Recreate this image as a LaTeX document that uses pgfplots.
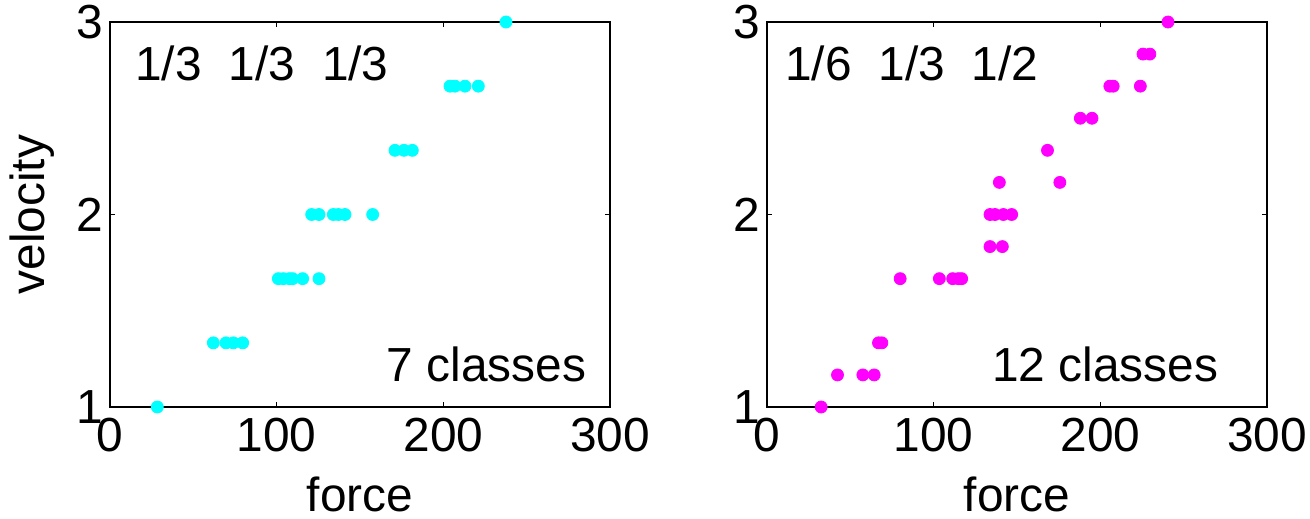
\documentclass[border=0pt]{standalone}
\usepackage{fontspec}
\setmainfont{Liberation Sans}
\usepackage{pgfplots}
\pgfplotsset{compat=1.18}

\definecolor{dotcyan}{RGB}{0,255,255}
\definecolor{dotmagenta}{RGB}{255,0,255}

\pgfplotsset{
  panel/.style={
    scale only axis,
    width=250bp, height=192.5bp,
    anchor=south west,
    xmin=0, xmax=300, ymin=1, ymax=3,
    xtick={0,100,200,300}, ytick={1,2,3},
    tick align=inside,
    major tick length=2.5bp,
    axis line style={line width=0.8bp},
    every tick/.style={black, line width=0.6bp},
    font=\fontsize{24}{28}\selectfont,
    /pgf/number format/assume math mode=true,
    xticklabel style={yshift=-2bp},
    yticklabel style={xshift=0bp},
    clip=false,
    xlabel={force},
    xlabel style={at={(axis description cs:0.5,0)}, anchor=base, inner sep=0pt, yshift=-52bp},
  },
  dots/.style={only marks, mark=*, mark size=3bp, mark options={draw=#1, fill=#1}},
}

\begin{document}
\begin{tikzpicture}
\path[use as bounding box] (-55bp,-56bp) rectangle (600bp,203.5bp);

% 7 velocity classes
\begin{axis}[panel, at={(0,0)},
  ylabel={velocity},
  ylabel style={at={(axis description cs:0,0.5)}, anchor=base, inner sep=0pt, yshift=32.5bp}]
\addplot[dots=dotcyan] coordinates {
  (237.6,3)
  (204,2.6667) (207,2.6667) (213,2.6667) (221,2.6667)
  (171,2.3333) (176.4,2.3333) (181.4,2.3333)
  (121,2) (125.4,2) (134,2) (137,2) (141,2) (157.6,2)
  (101,1.6667) (104,1.6667) (107.6,1.6667) (109.6,1.6667) (115.6,1.6667) (125.4,1.6667)
  (62,1.3333) (69.6,1.3333) (74,1.3333) (79.6,1.3333)
  (28.4,1)
};
\node[anchor=base west, inner sep=0pt] at (rel axis cs:0.05,0.849) {1/3};
\node[anchor=base west, inner sep=0pt] at (rel axis cs:0.2367,0.849) {1/3};
\node[anchor=base west, inner sep=0pt] at (rel axis cs:0.4233,0.849) {1/3};
\node[anchor=base east, inner sep=0pt] at (rel axis cs:0.953,0.066) {7 classes};
\end{axis}

% 12 velocity classes
\begin{axis}[panel, at={(328.5bp,0)}]
\addplot[dots=dotmagenta] coordinates {
  (240.6,3)
  (225.6,2.8333) (229.7,2.8333)
  (205.7,2.6667) (207.7,2.6667) (224,2.6667)
  (188,2.5) (195,2.5)
  (168.3,2.3333)
  (139.4,2.1667) (175.7,2.1667)
  (133.8,2) (136.8,2) (141.8,2) (146.8,2)
  (133.8,1.8333) (141.2,1.8333)
  (79.9,1.6667) (103.4,1.6667) (111.4,1.6667) (114.8,1.6667) (116.8,1.6667)
  (66.9,1.3333) (68.9,1.3333)
  (42.3,1.1667) (57.5,1.1667) (64.3,1.1667)
  (32.5,1)
};
\node[anchor=base west, inner sep=0pt] at (rel axis cs:0.036,0.849) {1/6};
\node[anchor=base west, inner sep=0pt] at (rel axis cs:0.223,0.849) {1/3};
\node[anchor=base west, inner sep=0pt] at (rel axis cs:0.409,0.849) {1/2};
\node[anchor=base east, inner sep=0pt] at (rel axis cs:0.903,0.066) {12 classes};
\end{axis}
\end{tikzpicture}
\end{document}
